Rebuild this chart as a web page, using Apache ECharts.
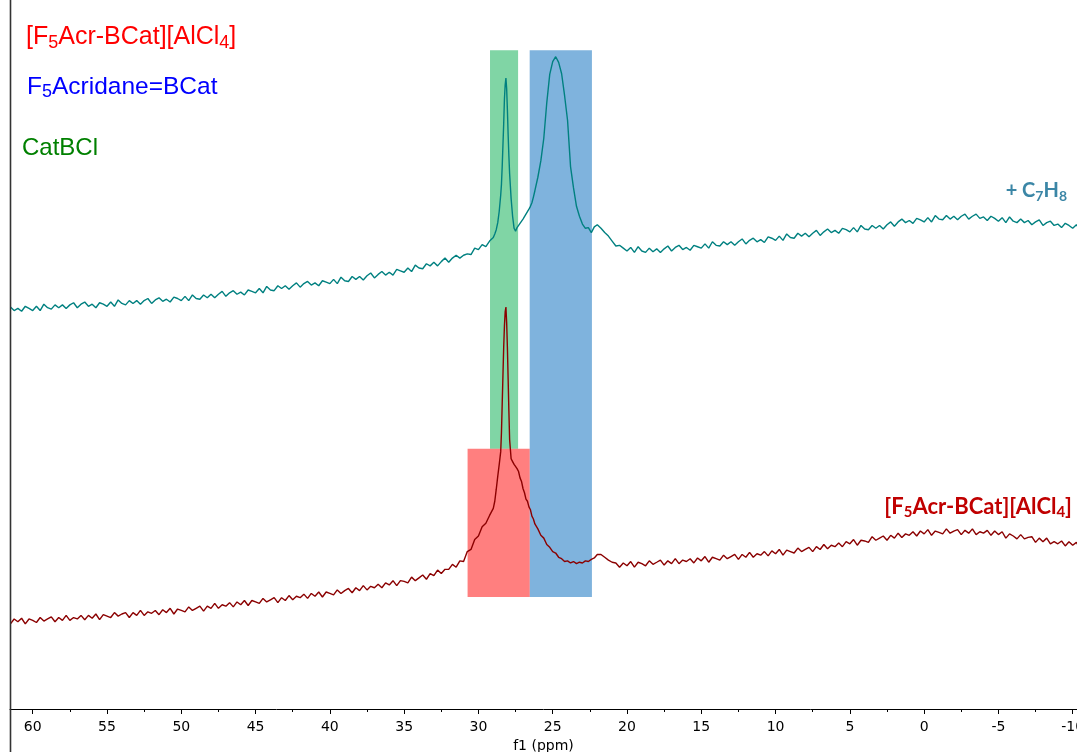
<!DOCTYPE html>
<html>
<head>
<meta charset="utf-8">
<script src="https://cdn.jsdelivr.net/npm/echarts@6/dist/echarts.min.js"></script>
<style>
html,body{margin:0;padding:0;background:#fff;}
#chart{width:1077px;height:752px;}
</style>
</head>
<body>
<div id="chart"></div>
<script>
// chemical shift sample positions (ppm)
const ppm = [
61.5,61.25,61,60.75,60.5,60.25,60,59.75,59.5,59.25,59,58.75,58.5,58.25,58,57.75,57.5,57.25,57,56.75,56.5,56.25,56,55.75,55.5,55.25,55,54.75,54.5,54.25,54,53.75,53.5,53.25,53,52.75,52.5,52.25,52,51.75,51.5,51.25,51,50.75,50.5,50.25,50,49.75,49.5,49.25,49,48.75,48.5,48.25,48,47.75,47.5,47.25,47,46.75,46.5,46.25,46,45.75,45.5,45.25,45,44.75,44.5,44.25,44,43.75,43.5,43.25,43,42.75,42.5,42.25,42,41.75,41.5,41.25,41,40.75,40.5,40.25,40,39.75,39.5,39.25,39,38.75,38.5,38.25,38,37.75,37.5,37.25,37,36.75,36.5,36.25,36,35.75,35.5,35.25,35,34.75,34.5,34.25,34,33.75,33.5,33.25,33,32.75,32.5,32.25,32,31.75,31.5,31.25,31,
30.75,30.5,30.25,30.0,29.75,29.5,29.25,29.0,
28.9,28.8,28.7,28.6,28.5,
28.45,28.4,28.35,28.3,28.25,28.2,28.15,28.1,28.05,28.0,27.95,27.9,
27.8,27.7,27.6,27.5,27.4,27.3,27.2,27.1,27.0,26.9,26.8,26.7,26.6,26.5,26.4,26.3,26.2,
26.0,25.8,25.6,25.4,25.2,25.0,24.8,24.6,24.4,24.2,24.0,23.8,23.6,23.4,23.2,23.0,22.8,22.6,22.4,22.2,22.0,
21.75,21.5,21.25,21,20.75,20.5,20.25,20,19.75,19.5,19.25,19,18.75,18.5,18.25,18,17.75,17.5,17.25,17,16.75,16.5,16.25,16,15.75,15.5,15.25,15,14.75,14.5,14.25,14,13.75,13.5,13.25,13,12.75,12.5,12.25,12,11.75,11.5,11.25,11,10.75,10.5,10.25,10,9.75,9.5,9.25,9,8.75,8.5,8.25,8,7.75,7.5,7.25,7,6.75,6.5,6.25,6,5.75,5.5,5.25,5,4.75,4.5,4.25,4,3.75,3.5,3.25,3,2.75,2.5,2.25,2,1.75,1.5,1.25,1,0.75,0.5,0.25,0,-0.25,-0.5,-0.75,-1,-1.25,-1.5,-1.75,-2,-2.25,-2.5,-2.75,-3,-3.25,-3.5,-3.75,-4,-4.25,-4.5,-4.75,-5,-5.25,-5.5,-5.75,-6,-6.25,-6.5,-6.75,-7,-7.25,-7.5,-7.75,-8,-8.25,-8.5,-8.75,-9,-9.25,-9.5,-9.75,-10,-10.25,-10.5
];

// upper trace: + C7H8 (intensity, arbitrary units)
const tolueneTrace = [
56.7,56.2,56.5,56.1,56.8,56.5,56.2,56.8,56.2,57.1,56.6,56.4,57.0,56.6,57.0,56.5,57.0,57.3,56.6,57.1,57.4,56.8,57.1,56.6,57.3,57.1,56.8,57.4,56.8,57.7,57.2,57.0,57.6,57.2,57.6,57.1,57.6,57.9,57.2,57.7,58.0,57.5,57.8,57.4,58.1,57.9,57.6,58.2,57.6,58.4,57.9,57.8,58.4,58.0,58.5,58.0,58.5,58.9,58.2,58.7,59.0,58.5,58.8,58.4,59.1,58.9,58.7,59.3,58.7,59.6,59.1,59.0,59.7,59.3,59.7,59.2,59.7,60.1,59.5,60.0,60.3,59.8,60.1,59.7,60.4,60.2,60.0,60.6,60.0,60.9,60.4,60.3,61.0,60.6,61.0,60.5,61.1,61.5,60.8,61.3,61.7,61.2,61.6,61.2,62.0,61.8,61.6,62.2,61.7,62.6,62.2,62.1,62.8,62.5,63.0,62.5,63.1,63.6,63.0,63.6,64.0,63.6,64.0,
64.2,64.1,65.0,64.8,65.5,65.2,66.0,66.5,
67.0,67.6,68.6,70.2,72.5,
74.0,76.5,79.5,82.5,86.0,88.0,89.0,87.5,84.5,81.0,78.0,75.5,
72.0,69.5,67.8,67.4,67.9,67.8,68.5,68.4,69.1,69.1,69.8,70.0,70.5,70.9,71.4,72.2,73.1,
75.0,77.3,80.5,85.5,89.5,91.3,92.0,91.2,89.6,86.5,83.0,76.5,73.5,70.9,69.5,68.4,67.8,67.9,67.2,68.0,68.3,
67.8,67.2,66.7,66.0,65.3,65.4,65.0,64.6,65.1,64.4,65.2,64.6,64.4,65.0,64.5,64.9,64.4,64.9,65.3,64.6,65.1,65.4,64.8,65.1,64.7,65.4,65.2,65.0,65.6,65.0,65.9,65.4,65.3,65.9,65.5,65.9,65.4,65.9,66.3,65.6,66.1,66.4,65.9,66.2,65.8,66.6,66.4,66.1,66.7,66.1,67.0,66.5,66.4,67.1,66.7,67.1,66.6,67.1,67.5,66.8,67.3,67.7,67.2,67.5,67.1,67.8,67.6,67.3,67.9,67.3,68.2,67.7,67.6,68.2,67.8,68.2,67.7,68.3,68.7,68.1,68.7,69.1,68.6,68.9,68.5,69.2,69.0,68.7,69.3,68.7,69.6,69.1,69.0,69.6,69.1,69.5,69.0,69.5,69.8,69.1,69.5,69.8,69.2,69.4,68.9,69.5,69.2,68.8,69.3,68.6,69.4,68.8,68.6,69.1,68.6,68.9,68.3,68.7,69.0,68.2,68.6,68.8,68.2,68.4,67.9,68.5,68.2,67.8,68.3,67.6
];

// lower trace: [F5Acr-BCat][AlCl4]
const saltTrace = [
12.0,12.7,12.3,12.8,12.0,12.7,12.5,12.2,12.9,12.4,12.7,13.0,12.3,12.9,12.5,13.2,12.5,12.9,12.7,13.2,12.6,13.2,12.8,13.4,12.6,13.3,13.1,12.9,13.6,13.1,13.4,13.6,12.9,13.6,13.2,13.9,13.2,13.7,13.5,13.9,13.3,14.0,13.6,14.2,13.4,14.1,13.9,13.7,14.4,13.9,14.2,14.5,13.8,14.5,14.2,14.9,14.2,14.7,14.5,15.0,14.4,15.1,14.7,15.3,14.6,15.3,15.1,14.9,15.6,15.1,15.4,15.7,15.0,15.7,15.3,16.0,15.4,15.9,15.7,16.2,15.6,16.3,15.9,16.5,15.8,16.5,16.3,16.1,16.8,16.3,16.7,17.0,16.4,17.1,16.7,17.4,16.8,17.3,17.1,17.6,17.1,17.8,17.5,18.1,17.4,18.1,18.0,17.8,18.6,18.1,18.5,18.9,18.3,19.1,18.8,19.6,19.1,19.7,19.7,20.4,20.0,20.9,20.8,
22.2,22.5,23.9,24.4,25.7,26.2,27.3,28.3,
29.3,31.0,32.8,34.5,36.3,
39.0,43.0,47.0,51.0,54.0,56.0,56.7,54.5,51.0,46.5,42.0,38.0,
35.3,34.9,34.5,34.4,33.9,33.5,32.6,32.1,31.1,30.5,29.6,29.3,28.5,28.1,27.2,26.8,26.1,
25.4,24.5,24.1,23.2,22.8,22.2,22.0,21.4,21.2,20.8,20.9,20.6,20.8,20.5,20.7,20.6,20.9,20.8,21.1,21.3,21.8,
21.8,21.4,21.0,20.7,20.6,20.0,20.6,20.2,20.8,20.0,20.7,20.5,20.2,20.9,20.4,20.7,21.0,20.3,20.9,20.5,21.2,20.5,21.0,20.8,21.2,20.6,21.3,20.9,21.5,20.7,21.4,21.2,21.0,21.7,21.2,21.5,21.8,21.1,21.8,21.4,22.1,21.4,21.9,21.7,22.2,21.6,22.3,21.9,22.5,21.7,22.4,22.2,22.0,22.7,22.2,22.5,22.8,22.2,22.9,22.5,23.2,22.6,23.1,22.9,23.4,22.9,23.6,23.3,23.9,23.1,23.8,23.7,23.5,24.3,23.8,24.1,24.4,23.8,24.5,24.1,24.8,24.2,24.7,24.5,25.0,24.4,25.1,24.7,25.3,24.5,25.1,24.9,24.7,25.4,24.8,25.1,25.3,24.6,25.2,24.8,25.4,24.6,25.0,24.8,25.2,24.5,25.1,24.6,25.0,24.1,24.7,24.4,24.0,24.6,24.0,24.2,24.3,23.5,24.1,23.6,24.1,23.3,23.6,23.3,23.7,23.0,23.6,23.1,23.5,22.6
];

// axis tick positions (ppm)
const majorTicks = [60,55,50,45,40,35,30,25,20,15,10,5,0,-5,-10];
const minorTicks = [57.5,52.5,47.5,42.5,37.5,32.5,27.5,22.5,17.5,12.5,7.5,2.5,-2.5,-7.5];
const ppmMin = -10.29, ppmMax = 61.53;

// highlighted regions: [ppmFrom, ppmTo, intensityLow, intensityHigh]
const catbclRegion   = [29.22, 27.33, 36.7, 92.9];
const acridaneRegion = [26.55, 22.36, 15.8, 92.9];
const saltRegion     = [30.73, 26.55, 15.8, 36.7];

const chart = echarts.init(document.getElementById('chart'), null, {renderer:'canvas'});

function sub(c, f, size, subSize, bold){
  return {
    a:{fontSize:size, color:c, fontFamily:f, fontWeight:bold?'bold':'normal', lineHeight:size+4},
    s:{fontSize:subSize, color:c, fontFamily:f, fontWeight:bold?'bold':'normal', lineHeight:size+4, verticalAlign:'bottom'}
  };
}

function area(r, color){
  return [{xAxis:r[0], yAxis:r[2], itemStyle:{color:color}}, {xAxis:r[1], yAxis:r[3]}];
}

function pairs(ys){
  const n = Math.min(ppm.length, ys.length);
  const out = [];
  for (let i = 0; i < n; i++) out.push([ppm[i], ys[i]]);
  return out;
}

const option = {
  animation:false,
  backgroundColor:'#fff',
  title:[
    {left:26, top:23, padding:0, text:'{a|[F}{s|5}{a|Acr-BCat][AlCl}{s|4}{a|]}',
      textStyle:{rich:sub('#ff0000','Liberation Sans',25,18,false)}},
    {left:27, top:73, padding:0, text:'{a|F}{s|5}{a|Acridane=BCat}',
      textStyle:{rich:sub('#0000ff','Liberation Sans',24.5,18,false)}},
    {left:22, top:134, padding:0, text:'{a|CatBCl}',
      textStyle:{rich:sub('#008000','Liberation Sans',24,16,false)}},
    {right:10, top:179, padding:0, text:'{a|+ C}{s|7}{a|H}{s|8}',
      textStyle:{rich:sub('#3b86a6','Lato',20,14,true)}},
    {right:5, top:494, padding:0, text:'{a|[F}{s|5}{a|Acr-BCat][AlCl}{s|4}{a|]}',
      textStyle:{rich:sub('#c00000','Lato',22,15,true)}}
  ],
  grid:{left:10, top:0, width:1067, height:709, containLabel:false, outerBoundsMode:'none'},
  xAxis:[{
    type:'value', min:ppmMin, max:ppmMax, inverse:true, position:'bottom',
    axisLine:{show:true, onZero:false, lineStyle:{color:'#000', width:1}},
    axisTick:{show:true, length:5, customValues:majorTicks, lineStyle:{color:'#000'}},
    splitLine:{show:false},
    axisLabel:{color:'#000', fontFamily:'DejaVu Sans', fontSize:14, margin:11, customValues:majorTicks,
      showMinLabel:true, showMaxLabel:true, hideOverlap:false},
    name:'f1 (ppm)', nameLocation:'middle', nameGap:30,
    nameTextStyle:{color:'#000', fontFamily:'DejaVu Sans', fontSize:14}
  },{
    type:'value', min:ppmMin, max:ppmMax, inverse:true, position:'bottom',
    axisLine:{show:false, onZero:false},
    axisTick:{show:true, length:3, customValues:minorTicks, lineStyle:{color:'#000'}},
    axisLabel:{show:false}, splitLine:{show:false}
  }],
  yAxis:{type:'value', min:0, max:100, show:false},
  graphic:[
    {type:'line', shape:{x1:10.5, y1:0, x2:10.5, y2:752}, style:{stroke:'#333', lineWidth:1.6}, z:100}
  ],
  series:[
    {type:'line', name:'+ C7H8', data:pairs(tolueneTrace), symbol:'none', showSymbol:false,
      lineStyle:{color:'#008080', width:1.4}, z:2},
    {type:'line', name:'[F5Acr-BCat][AlCl4]', data:pairs(saltTrace), symbol:'none', showSymbol:false,
      lineStyle:{color:'#8b0000', width:1.4}, z:2},
    {type:'line', name:'regions', data:[], z:5,
      markArea:{silent:true, label:{show:false},
        data:[
          area(catbclRegion, 'rgba(1,171,75,0.5)'),
          area(acridaneRegion, 'rgba(0,103,187,0.5)'),
          area(saltRegion, 'rgba(255,0,0,0.5)')
        ]}}
  ]
};
chart.setOption(option);
</script>
</body>
</html>
